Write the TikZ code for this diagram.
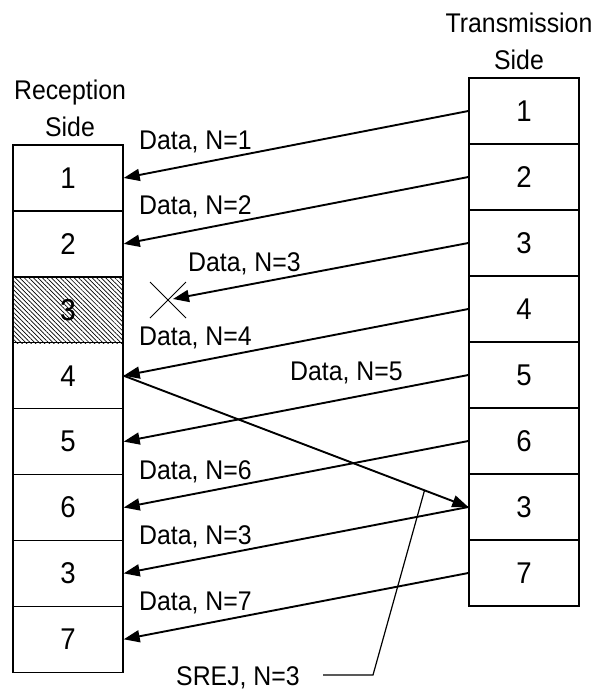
\documentclass[tikz,border=0pt]{standalone}
\usepackage{fontspec}
\setmainfont{Liberation Sans}
\newfontfamily\narrowsans[FakeStretch=0.92]{Liberation Sans}
\usetikzlibrary{arrows.meta,patterns.meta,calc}
\begin{document}
\begin{tikzpicture}[x=1pt,y=-1pt,
  cell/.style={draw,line width=1.4pt,minimum width=110pt,minimum height=65.9pt,inner sep=0pt,font=\narrowsans\fontsize{30}{32}\selectfont},
  msg/.style={line width=1.9pt,-{Triangle[length=16pt,width=12pt]}},
  lbl/.style={inner sep=0pt,font=\narrowsans\fontsize{27}{30}\selectfont},
  title/.style={inner sep=0pt,align=center,font=\narrowsans\fontsize{27}{37}\selectfont}]
\useasboundingbox (0,0) rectangle (603,697);
% titles
\node[title] (rt) at (70,108) {Reception\\Side};
\node[title] (tt) at (519,41) {Transmission\\Side};
% left column
\foreach \n/\t [count=\i from 0] in {L1/1,L2/2,L3/3,L4/4,L5/5,L6/6,L7/3,L8/7}
  \node[cell] (\n) at (68,{178+65.9*\i}) {\t};
\fill[pattern={Lines[angle=-45,distance=3.2pt,line width=0.7pt]}] (L3.south west) rectangle (L3.north east);
\node[cell] at (L3) {3};
% right column
\foreach \n/\t [count=\i from 0] in {R1/1,R2/2,R3/3,R4/4,R5/5,R6/6,R7/3,R8/7}
  \node[cell] (\n) at (524,{111+66*\i}) {\t};
% lost frame mark
\coordinate (X) at (168,300);
\draw[line width=1pt] (150,282) -- (186,318) (150,318) -- (186,282);
\coordinate (Xt) at (173,299);
% data arrows
\draw[msg] (R1.west) -- (L1.east);
\draw[msg] (R2.west) -- (L2.east);
\draw[msg] (R3.west) -- (Xt);
\draw[msg] (R4.west) -- (L4.east);
\draw[msg] (R5.west) -- (L5.east);
\draw[msg] (R6.west) -- (L6.east);
\draw[msg] (R7.west) -- (L7.east);
\draw[msg] (R8.west) -- (L8.east);
% SREJ arrow
\draw[msg] (L4.east) -- (R7.west);
% leader
\coordinate (lp) at ($(L4.east)!0.873!(R7.west)$);
\coordinate (lc) at (373,675);
\coordinate (le) at (323,675);
\draw[line width=1.2pt] (lp) -- (lc) -- (le);
% labels
\node[lbl,anchor=west] (d1) at (139,142) {Data, N=1};
\node[lbl,anchor=west] (d2) at (139,207) {Data, N=2};
\node[lbl,anchor=west] (d3) at (188,264) {Data, N=3};
\node[lbl,anchor=west] (d4) at (139,338) {Data, N=4};
\node[lbl,anchor=west] (d5) at (290,373) {Data, N=5};
\node[lbl,anchor=west] (d6) at (139,472) {Data, N=6};
\node[lbl,anchor=west] (d7) at (139,537) {Data, N=3};
\node[lbl,anchor=west] (d8) at (139,603) {Data, N=7};
\node[lbl,anchor=west] (sr) at (176,678) {SREJ, N=3};
\end{tikzpicture}
\end{document}
